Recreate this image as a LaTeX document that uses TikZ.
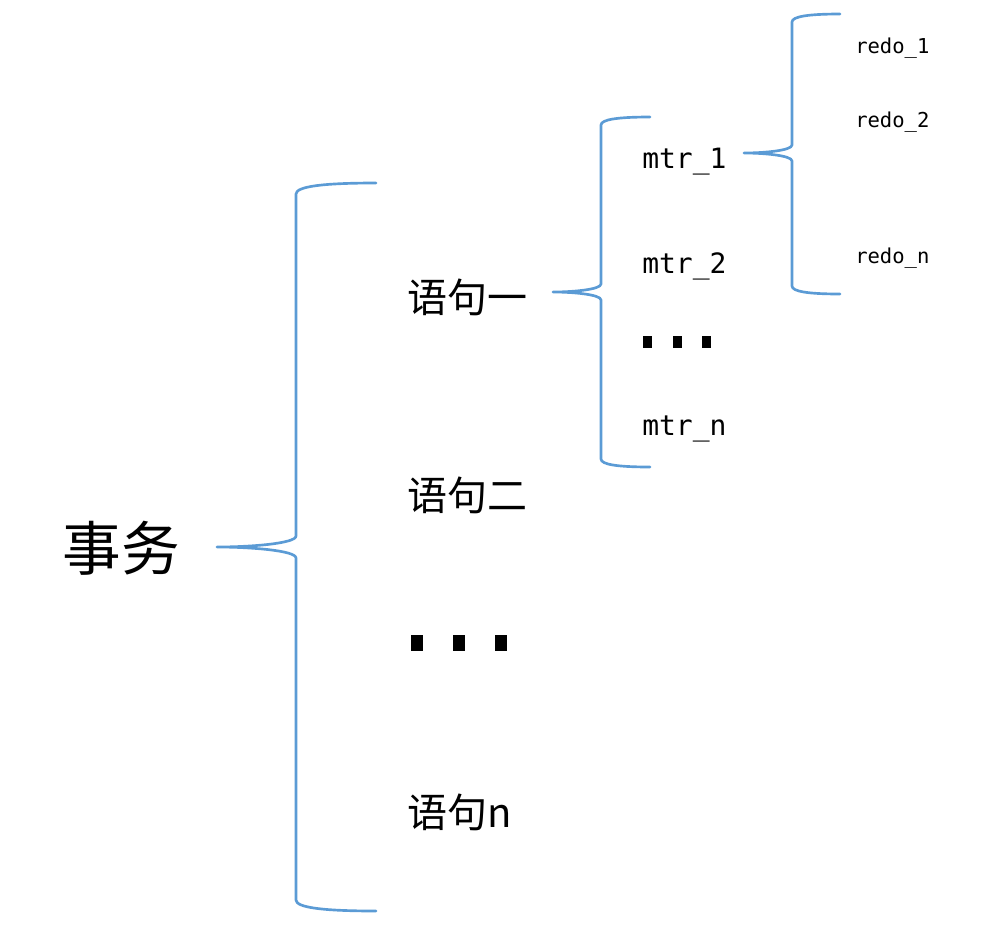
\documentclass[tikz,border=0pt]{standalone}
\usepackage{fontspec}
\setmonofont{DejaVu Sans Mono}
\newfontfamily\cjk{Noto Sans CJK SC}
\usetikzlibrary{positioning}
\definecolor{braceblue}{HTML}{5B9BD5}
\tikzset{
  brace/.style={draw=braceblue, line width=2pt, line cap=round, line join=round},
  topic/.style={font=\cjk\fontsize{44}{44}\selectfont, inner sep=0pt},
  stmt/.style={font=\cjk\fontsize{30}{30}\selectfont, anchor=west, inner sep=0pt},
  mtr/.style={font=\ttfamily\fontsize{21}{21}\selectfont, anchor=base west, inner sep=0pt},
  redo/.style={font=\ttfamily\fontsize{15.4}{15.4}\selectfont, anchor=base west, inner sep=0pt},
  dotrow/.style={inner sep=0pt},
}
% curly brace: end x, spine x, tip x, top y, tip y, bottom y, corner size
\newcommand{\curly}[7]{%
  \draw[brace] (#1,#4) .. controls ({#2+0.35*(#1-#2)},#4) and (#2,{#4+0.3*#7}) .. (#2,{#4+#7})
    -- (#2,{#5-#7}) .. controls (#2,{#5-0.3*#7}) and ({#3+0.4*(#2-#3)},#5) .. (#3,#5)
    .. controls ({#3+0.4*(#2-#3)},#5) and (#2,{#5+0.3*#7}) .. (#2,{#5+#7})
    -- (#2,{#6-#7}) .. controls (#2,{#6-0.3*#7}) and ({#2+0.35*(#1-#2)},#6) .. (#1,#6);}

\begin{document}
\begin{tikzpicture}[x=0.75pt, y=-0.75pt]
  \useasboundingbox (0,0) rectangle (990,926);
  % transaction
  \node[topic] (trans) at (121,548) {事务};
  \curly{376}{296}{217}{183}{547}{911}{11}
  % statements
  \node[stmt] (s1) at (407,297) {语句一};
  \node[stmt] (s2) at (407,495) {语句二};
  \node[dotrow] (sdots) at (459,643)
    {\rule{9pt}{12pt}\hspace{22.5pt}\rule{9pt}{12pt}\hspace{22.5pt}\rule{9pt}{12pt}};
  \node[stmt] (sn) at (407,812) {语句n};
  % mini-transactions
  \curly{650}{601}{553}{117}{292}{467}{8}
  \node[mtr] (m1) at (642,168) {mtr\_1};
  \node[mtr] (m2) at (642,273) {mtr\_2};
  \node[dotrow] (mdots) at (677,342)
    {\rule{6.75pt}{9pt}\hspace{15.4pt}\rule{6.75pt}{9pt}\hspace{15.4pt}\rule{6.75pt}{9pt}};
  \node[mtr] (mn) at (642,435) {mtr\_n};
  % redo records
  \curly{840}{792}{744}{14}{153}{294}{8}
  \node[redo] (r1) at (855,53) {redo\_1};
  \node[redo] (r2) at (855,127) {redo\_2};
  \node[redo] (rn) at (855,263) {redo\_n};
\end{tikzpicture}
\end{document}
